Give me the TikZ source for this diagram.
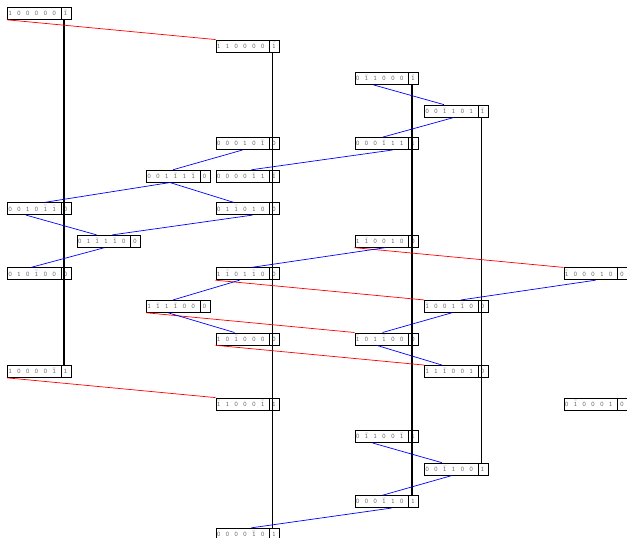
\documentclass[tikz,border=0pt]{standalone}
\usetikzlibrary{calc}
\tikzset{
  bitbox/.style={draw=black, line width=0.8pt, minimum width=63.5pt, minimum height=12pt, inner sep=0pt, anchor=north west, fill=white},
  bittext/.style={inner sep=0pt, text=black!60, text height=4.6pt, text depth=0pt, font=\fontsize{7}{7}\selectfont\ttfamily},
  sepline/.style={draw=black, line width=0.8pt},
  redline/.style={draw=red, line width=0.7pt},
  blueline/.style={draw=blue, line width=0.7pt},
  thickv/.style={draw=black, line width=2pt},
  thinv/.style={draw=black, line width=0.8pt},
}
\newcommand\bitcell[1]{\makebox[8.8pt]{#1}}
\newcommand\bbz{\bitcell{0}}
\newcommand\bbo{\bitcell{1}}
\newcommand\bbi{\bitcell{$\bar{\texttt{1}}$}}
\newcommand\mkbox[5]{%
  \node[bitbox] (#1) at (#2, {-(7+32.55*#3)}) {};
  \draw[sepline] ($(#1.north west)+(54,0)$) -- ($(#1.south west)+(54,0)$);
  \node[bittext, anchor=west] (#1t) at ($(#1.west)+(-1.4,0)$) {#4};
  \node[bittext] (#1l) at ($(#1.west)+(58.5,0)$) {#5};
}
\newcommand\blink[4]{\draw[blueline] ($(#1.south west)+(#2,0)$) -- ($(#3.north west)+(#4,0)$);}
\newcommand\rlink[2]{\draw[redline] (#1.south west) -- (#2.north west);}
\begin{document}
\begin{tikzpicture}[x=1pt, y=1pt]
\path[use as bounding box] (0,0) rectangle (627,-538);
\clip (0,0) rectangle (627,-538);
% boxes
\mkbox{b1}{7}{0}{\bbo\bbz\bbz\bbz\bbz\bbz}{$\bar{\texttt{1}}$}
\mkbox{b2}{215.5}{1}{\bbi\bbo\bbz\bbz\bbz\bbz}{$\bar{\texttt{1}}$}
\mkbox{b3}{354.5}{2}{\bbz\bbi\bbo\bbz\bbz\bbz}{$\bar{\texttt{1}}$}
\mkbox{b4}{424}{3}{\bbz\bbz\bbi\bbo\bbz\bbo}{$\bar{\texttt{1}}$}
\mkbox{b5}{215.5}{4}{\bbz\bbz\bbz\bbo\bbz\bbi}{0}
\mkbox{b6}{354.5}{4}{\bbz\bbz\bbz\bbi\bbo\bbo}{1}
\mkbox{b7}{146}{5}{\bbz\bbz\bbo\bbi\bbo\bbi}{0}
\mkbox{b8}{215.5}{5}{\bbz\bbz\bbz\bbz\bbi\bbo}{$\bar{\texttt{1}}$}
\mkbox{b9}{7}{6}{\bbz\bbz\bbo\bbz\bbi\bbi}{0}
\mkbox{b10}{215.5}{6}{\bbz\bbo\bbi\bbz\bbo\bbz}{0}
\mkbox{b11}{76.5}{7}{\bbz\bbo\bbi\bbo\bbi\bbz}{0}
\mkbox{b12}{354.5}{7}{\bbo\bbi\bbz\bbz\bbo\bbz}{0}
\mkbox{b13}{7}{8}{\bbz\bbo\bbz\bbi\bbz\bbz}{0}
\mkbox{b14}{215.5}{8}{\bbo\bbi\bbz\bbo\bbi\bbz}{0}
\mkbox{b15}{563.5}{8}{\bbi\bbz\bbz\bbz\bbo\bbz}{0}
\mkbox{b16}{146}{9}{\bbo\bbi\bbo\bbi\bbz\bbz}{0}
\mkbox{b17}{424}{9}{\bbi\bbz\bbz\bbo\bbi\bbz}{0}
\mkbox{b18}{215.5}{10}{\bbo\bbz\bbi\bbz\bbz\bbz}{0}
\mkbox{b19}{354.5}{10}{\bbi\bbz\bbo\bbi\bbz\bbz}{0}
\mkbox{b20}{7}{11}{\bbo\bbz\bbz\bbz\bbz\bbi}{1}
\mkbox{b21}{424}{11}{\bbi\bbo\bbi\bbz\bbz\bbo}{0}
\mkbox{b22}{215.5}{12}{\bbi\bbo\bbz\bbz\bbz\bbi}{1}
\mkbox{b23}{563.5}{12}{\bbz\bbi\bbz\bbz\bbz\bbo}{0}
\mkbox{b24}{354.5}{13}{\bbz\bbi\bbo\bbz\bbz\bbi}{1}
\mkbox{b25}{424}{14}{\bbz\bbz\bbi\bbo\bbz\bbz}{1}
\mkbox{b26}{354.5}{15}{\bbz\bbz\bbz\bbi\bbo\bbz}{1}
\mkbox{b27}{215.5}{16}{\bbz\bbz\bbz\bbz\bbi\bbz}{1}
% vertical lines
\draw[thickv] ($(b1.south west)+(57,0)$) -- ($(b20.north west)+(57,0)$);
\draw[thinv] ($(b2.south west)+(57,0)$) -- ($(b27.north west)+(57,0)$);
\draw[thickv] ($(b3.south west)+(57,0)$) -- ($(b26.north west)+(57,0)$);
\draw[thinv] ($(b4.south west)+(57,0)$) -- ($(b25.north west)+(57,0)$);
% red links
\rlink{b1}{b2}
\rlink{b12}{b15}
\rlink{b14}{b17}
\rlink{b16}{b19}
\rlink{b18}{b21}
\rlink{b20}{b22}
% blue links
\blink{b3}{19}{b4}{20}
\blink{b4}{30}{b6}{28}
\blink{b6}{38}{b8}{36}
\blink{b5}{27}{b7}{27}
\blink{b7}{24}{b9}{38}
\blink{b7}{24}{b10}{18}
\blink{b9}{19}{b11}{20}
\blink{b10}{37}{b11}{36}
\blink{b11}{28}{b13}{24}
\blink{b12}{31}{b14}{36}
\blink{b14}{24}{b16}{27}
\blink{b15}{32}{b17}{37}
\blink{b16}{22}{b18}{19}
\blink{b17}{28}{b19}{28}
\blink{b19}{22}{b21}{18}
\blink{b24}{18}{b25}{18}
\blink{b25}{28}{b26}{28}
\blink{b26}{37}{b27}{36}
\end{tikzpicture}
\end{document}
